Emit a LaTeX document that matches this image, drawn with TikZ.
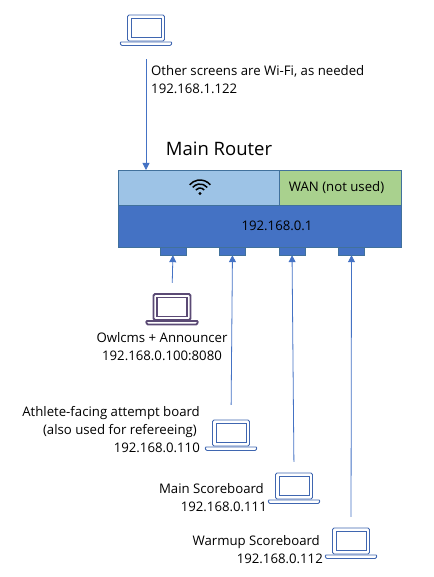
\documentclass[tikz,border=0pt]{standalone}
\usepackage{fontspec}
\setmainfont{Open Sans}
\usepackage{xcolor}
\usetikzlibrary{arrows.meta,positioning,calc}
\definecolor{linkblue}{HTML}{4472C4}
\definecolor{boxedge}{HTML}{41719C}
\definecolor{wifiblue}{HTML}{9DC3E6}
\definecolor{wangreen}{HTML}{A9D18E}
\definecolor{hostpurple}{HTML}{5B4A75}
\definecolor{screenblue}{HTML}{3F66B0}

\begin{document}
\begin{tikzpicture}[
    x=1pt, y=-1pt,
    label/.style={inner sep=0pt, font=\fontsize{13.2}{18}\selectfont, align=right},
    routerbox/.style={draw=boxedge, inner sep=0pt, anchor=north west},
    portbox/.style={draw=boxedge, fill=linkblue, minimum width=26pt, minimum height=8pt, inner sep=0pt},
    arrow/.style={-{Triangle[width=7pt,length=7pt]}, linkblue, line width=0.8pt},
    laptop/.style={minimum width=54pt, minimum height=33pt, inner sep=0pt, path picture={
        \draw[#1, rounded corners=1.5pt] (-18.5,-15.5) rectangle (18.5,10.5);
        \draw[#1] (-15,-12) rectangle (15,7);
        \draw[#1, rounded corners=1pt] (-26,11.5) -- (26,11.5) -- (25,15) -- (-25,15) -- cycle;
    }},
    bluelaptop/.style={laptop={screenblue, line width=0.9pt}},
    hostlaptop/.style={laptop={hostpurple, line width=1.8pt}}
]
\useasboundingbox (0,0) rectangle (433,577);
% router
\node[routerbox, fill=wifiblue, minimum width=161pt, minimum height=35pt] (wifi) at (118,170) {};
\node[routerbox, fill=wangreen, minimum width=122pt, minimum height=35pt] (wan) at (279,170) {};
\node[routerbox, fill=linkblue, minimum width=283pt, minimum height=42pt] (lan) at (118,205) {};
\node[label] (lanlabel) at (277,226) {192.168.0.1};
\node[label] (wanlabel) at (336.5,188) {WAN (not used)};
\node[inner sep=0pt, font=\fontsize{18.5}{20}\selectfont] (router) at (219,149) {Main Router};

% wifi symbol
\fill (200,193.5) circle (1.6pt);
\foreach \r in {5.5,9.5,13.5} {
    \draw[line width=1.5pt] ([shift={(40:\r pt)}]200,193.5) arc[start angle=40, end angle=140, radius=\r pt];
}

% ports
\node[portbox] (porta) at (173,251) {};
\node[portbox] (portb) at (232.5,251) {};
\node[portbox] (portc) at (292,251) {};
\node[portbox] (portd) at (351.5,251) {};

% laptops
\node[bluelaptop] (wifipc) at (146,30.5) {};
\node[hostlaptop] (hostpc) at (172,309.5) {};
\node[bluelaptop] (boardpc) at (231,435.5) {};
\node[bluelaptop] (mainpc) at (294,488.5) {};
\node[bluelaptop] (warmpc) at (351,543.5) {};

% links
\draw[arrow, shorten <=12pt] (wifipc.south) -- (wifipc.south |- wifi.north);
\draw[arrow, shorten <=10pt] (hostpc.north) -- (porta);
\draw[arrow, shorten <=14pt] (boardpc.north) -- (portb);
\draw[arrow, shorten <=10pt] (mainpc.north) -- (portc);
\draw[arrow, shorten <=10pt] (warmpc.north) -- (portd);

% labels
\node[label, align=left, anchor=north west] (wifilabel) at (151,65) {Other screens are Wi-Fi, as needed\\192.168.1.122};
\node[label, align=center] (hostlabel) at (162,346.5) {Owlcms + Announcer\\192.168.0.100:8080};
\node[label, anchor=east] (boardlabel) at (200,430) {Athlete-facing attempt board\\(also used for refereeing)\kern3pt\\192.168.0.110};
\node[label, anchor=east] (mainlabel) at (267,498) {Main Scoreboard\kern3pt\\192.168.0.111};
\node[label, anchor=east] (warmlabel) at (323,550) {Warmup Scoreboard\kern3pt\\192.168.0.112};
\end{tikzpicture}
\end{document}
